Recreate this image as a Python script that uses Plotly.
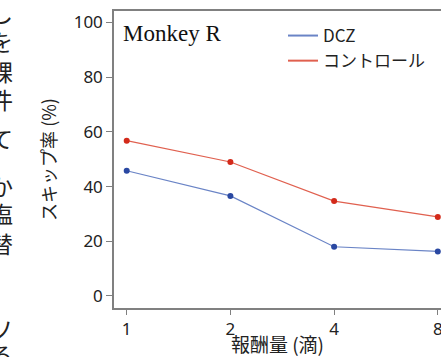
import plotly.graph_objects as go

# ---- data ----
reward_drops = [1, 2, 4, 8]
x_tick_labels = ["1", "2", "4", "8"]
dcz_skip = [45.8, 36.6, 18.0, 16.3]
control_skip = [56.8, 49.0, 34.7, 28.9]
y_ticks = [0, 20, 40, 60, 80, 100]
series_names = ["DCZ", "コントロール"]
panel_label = "Monkey R"
x_title = "報酬量 (滴)"
y_title = "スキップ率 (%)"
# cropped glyphs of the neighbouring text column (left edge of the page)
side_chars = ["し", "を", "課", "件", "て", "か", "塩", "替", "ソ", "る"]
side_rows_px = [12, 41, 71, 99, 138, 186, 213, 243, 328, 354]

W, H = 441, 357
ML, MR, MT, MB = 114, 0, 11, 49
PW, PH = W - ML - MR, H - MT - MB

FONT = "Noto Sans, Noto Sans CJK JP, sans-serif"
JFONT = "Noto Sans CJK JP, Noto Sans, sans-serif"

blue_line, blue_mark = "#6a84c6", "#2a48a2"
red_line, red_mark = "#e0604f", "#d32a1a"

fig = go.Figure()
for name, vals, lc, mc in [
    (series_names[0], dcz_skip, blue_line, blue_mark),
    (series_names[1], control_skip, red_line, red_mark),
]:
    fig.add_trace(go.Scatter(
        x=reward_drops, y=vals, mode="lines+markers",
        line=dict(color=lc, width=1.2),
        marker=dict(color=mc, size=6),
        showlegend=False, cliponaxis=False,
    ))
    fig.add_trace(go.Scatter(
        x=[None], y=[None], mode="lines", name=name,
        line=dict(color=lc, width=2),
    ))

fig.update_layout(
    width=W, height=H,
    margin=dict(l=ML, r=MR, t=MT, b=MB, autoexpand=False),
    paper_bgcolor="white", plot_bgcolor="white",
    font=dict(family=FONT, color="#222222", size=16),
    legend=dict(
        x=(283 - ML) / PW, y=1 - (18 - MT) / PH,
        xanchor="left", yanchor="top",
        bgcolor="rgba(0,0,0,0)", borderwidth=0,
        font=dict(family=JFONT, size=17, color="#222222"),
        tracegroupgap=0,
    ),
)

fig.update_xaxes(
    type="log", range=[-0.0369, 0.9124],
    tickvals=reward_drops, ticktext=x_tick_labels,
    ticklabeloverflow="allow",
    showgrid=False, zeroline=False,
    showline=True, linecolor="#808080", linewidth=1.5, mirror=True,
    ticks="outside", ticklen=5, tickcolor="#808080", tickwidth=1.2,
    tickfont=dict(family=FONT, size=17, color="#222222"),
    title=dict(text=x_title, font=dict(family=JFONT, size=19, color="#222222"), standoff=0),
    automargin=False,
)
fig.update_yaxes(
    range=[-4.39, 104.2],
    tickvals=y_ticks,
    showgrid=False, zeroline=False,
    showline=True, linecolor="#808080", linewidth=1.5, mirror=False,
    ticks="outside", ticklen=6, tickcolor="#808080", tickwidth=1.2,
    tickfont=dict(family=FONT, size=17, color="#222222"),
    title=dict(text=y_title, font=dict(family=JFONT, size=18, color="#222222"), standoff=12),
    automargin=False,
)

fig.add_annotation(
    text=panel_label, xref="paper", yref="paper",
    x=(121 - ML) / PW, y=1 - (33 - MT) / PH,
    xanchor="left", yanchor="middle", showarrow=False,
    font=dict(family="Liberation Serif, Times New Roman, serif", size=23, color="#111111"),
)

for ch, ypx in zip(side_chars, side_rows_px):
    fig.add_annotation(
        text=ch, xref="paper", yref="paper",
        x=(15 - ML) / PW, y=1 - (ypx - MT) / PH,
        xanchor="right", yanchor="middle", showarrow=False,
        font=dict(family=JFONT, size=23, color="#222222"),
    )

fig.write_html(
    "out.html",
    config={"displayModeBar": False},
    post_script="document.body.style.margin='0';document.body.style.overflow='hidden';",
)
